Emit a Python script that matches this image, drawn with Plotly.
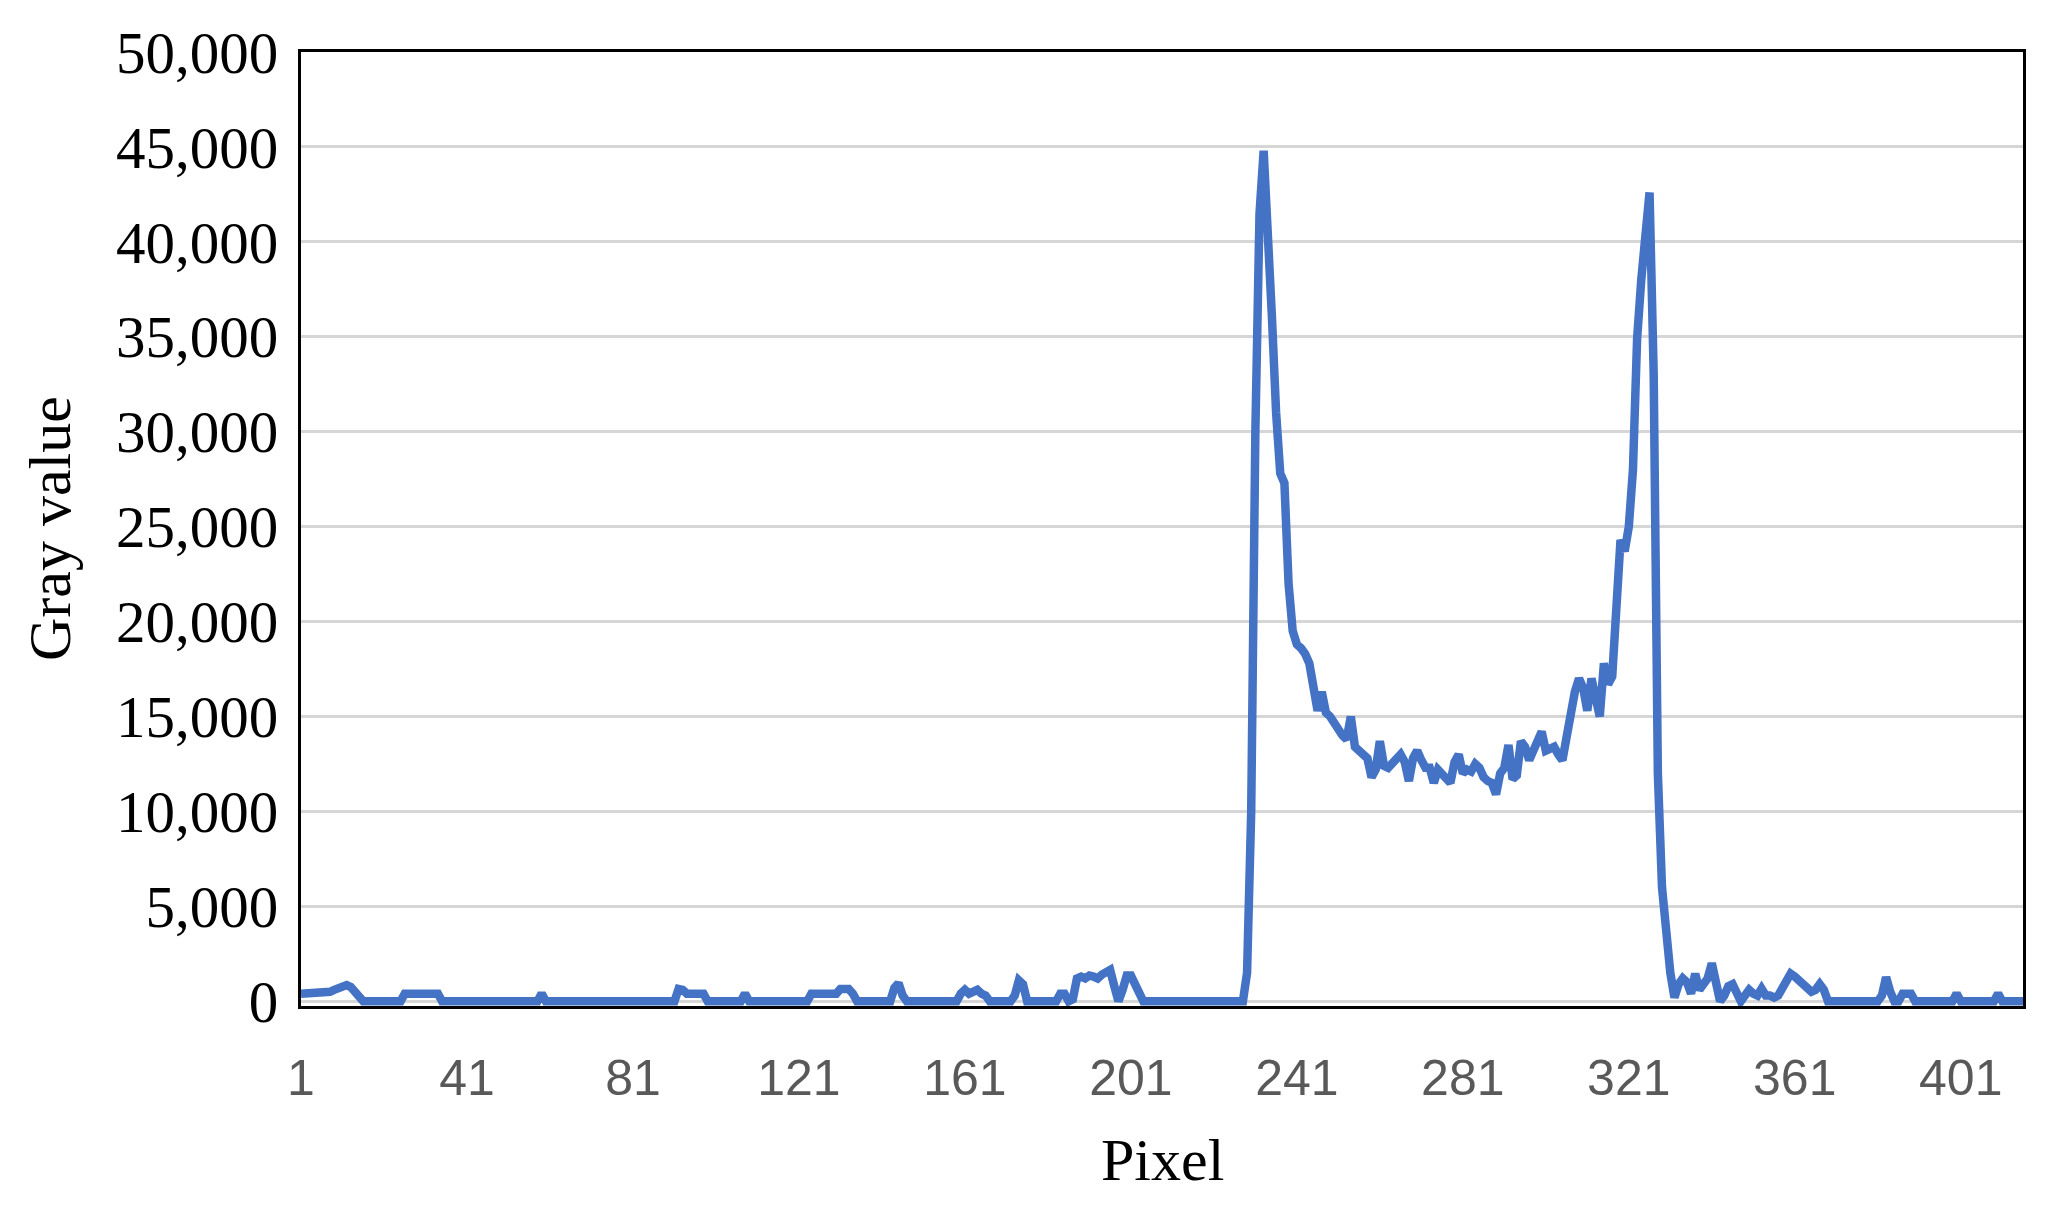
import plotly.graph_objects as go

# gray value profile along the line, one value per pixel (1..416)
gray_value = [
    400, 400, 400, 400, 400, 400, 400, 500, 600, 700,
    800, 850, 750, 500, 250, 0, 0, 0, 0, 0,
    0, 0, 0, 0, 0, 400, 400, 400, 400, 400,
    400, 400, 400, 400, 0, 0, 0, 0, 0, 0,
    0, 0, 0, 0, 0, 0, 0, 0, 0, 0,
    0, 0, 0, 0, 0, 0, 0, 0, 400, 0,
    0, 0, 0, 0, 0, 0, 0, 0, 0, 0,
    0, 0, 0, 0, 0, 0, 0, 0, 0, 0,
    0, 0, 0, 0, 0, 0, 0, 0, 0, 0,
    0, 650, 600, 400, 400, 400, 400, 400, 0, 0,
    0, 0, 0, 0, 0, 0, 0, 400, 0, 0,
    0, 0, 0, 0, 0, 0, 0, 0, 0, 0,
    0, 0, 0, 400, 400, 400, 400, 400, 400, 400,
    650, 650, 650, 400, 0, 0, 0, 0, 0, 0,
    0, 0, 0, 700, 950, 300, 0, 0, 0, 0,
    0, 0, 0, 0, 0, 0, 0, 0, 0, 400,
    600, 400, 500, 600, 400, 300, 0, 0, 0, 0,
    0, 0, 300, 1100, 900, 0, 0, 0, 0, 0,
    0, 0, 0, 400, 400, 0, 100, 1200, 1300, 1200,
    1350, 1300, 1200, 1400, 1550, 1650, 800, 0, 600, 1350,
    1350, 800, 500, 0, 0, 0, 0, 0, 0, 0,
    0, 0, 0, 0, 0, 0, 0, 0, 0, 0,
    0, 0, 0, 0, 0, 0, 0, 0, 1500, 10000,
    30000, 41500, 44800, 41000, 36000, 31000, 27800, 27300, 22000, 19500,
    18800, 18600, 18300, 17800, 16200, 15300, 16300, 15200, 15000, 14600,
    14300, 14000, 13800, 15000, 13400, 13200, 13000, 12800, 11800, 12200,
    13700, 12400, 12300, 12500, 12800, 13000, 12600, 11600, 12800, 13200,
    12700, 12300, 12300, 11500, 12200, 12000, 11700, 11500, 12600, 13000,
    12000, 12200, 12100, 12500, 12300, 11800, 11600, 11500, 10900, 12000,
    12300, 13500, 11700, 11900, 13700, 13400, 12700, 13300, 13800, 14200,
    13200, 13300, 13400, 13000, 12700, 13900, 15500, 16300, 17000, 16500,
    15300, 17000, 16000, 15000, 17800, 16700, 17100, 20500, 24300, 23700,
    25000, 28000, 34900, 38000, 40900, 42600, 33000, 12000, 6000, 3500,
    1500, 200, 900, 1200, 1000, 400, 1450, 600, 900, 1200,
    2000, 800, 0, 300, 800, 900, 300, 0, 300, 600,
    400, 300, 660, 300, 300, 200, 300, 700, 1200, 1450,
    1300, 1100, 1000, 700, 500, 600, 900, 600, 0, 0,
    0, 0, 0, 0, 0, 0, 0, 0, 0, 0,
    0, 300, 1270, 500, 0, 0, 400, 400, 400, 0,
    0, 0, 0, 0, 0, 0, 0, 0, 0, 400,
    0, 0, 0, 0, 0, 0, 0, 0, 0, 400,
    0, 0, 0, 0, 0, 0,
]
pixel = list(range(1, len(gray_value) + 1))

x_ticks = [1, 41, 81, 121, 161, 201, 241, 281, 321, 361, 401]
y_ticks = [0, 5000, 10000, 15000, 20000, 25000, 30000, 35000, 40000, 45000, 50000]

fig = go.Figure()
fig.add_trace(go.Scatter(x=pixel, y=gray_value, mode="lines",
                         line=dict(color="#4472C4", width=8.5), showlegend=False))

# page body has an 8px margin, so the figure is a bit smaller than the window
fig.update_layout(
    width=2051, height=1203,
    margin=dict(l=293, r=36, t=34, b=205),
    paper_bgcolor="white", plot_bgcolor="white",
)
fig.update_xaxes(
    range=[1, len(gray_value)], tickvals=x_ticks,
    showgrid=False, zeroline=False,
    showline=True, linecolor="black", linewidth=3, mirror=True,
    ticks="", ticklabelstandoff=26,
    tickfont=dict(family="Liberation Sans Narrow, Liberation Sans", size=50, color="#595959"),
)
fig.update_yaxes(
    range=[-250, 50000], tickvals=y_ticks, tickformat=",d",
    showgrid=True, gridcolor="#d6d6d6", gridwidth=3, zeroline=False,
    showline=True, linecolor="black", linewidth=3, mirror=True,
    layer="below traces",
    ticks="", ticklabelstandoff=8,
    tickfont=dict(family="Liberation Serif, Times New Roman, serif", size=59, color="black"),
)

fig.add_annotation(text="Pixel", xref="paper", yref="paper", x=0.5, y=0,
                   yanchor="middle", yshift=-154, showarrow=False,
                   font=dict(family="Liberation Serif, serif", size=60, color="black"))
fig.add_annotation(text="Gray value", xref="paper", yref="paper", x=0, y=0.5,
                   xanchor="center", xshift=-251, textangle=-90, showarrow=False,
                   font=dict(family="Liberation Serif, serif", size=60, color="black"))

fig.write_html("out.html")
